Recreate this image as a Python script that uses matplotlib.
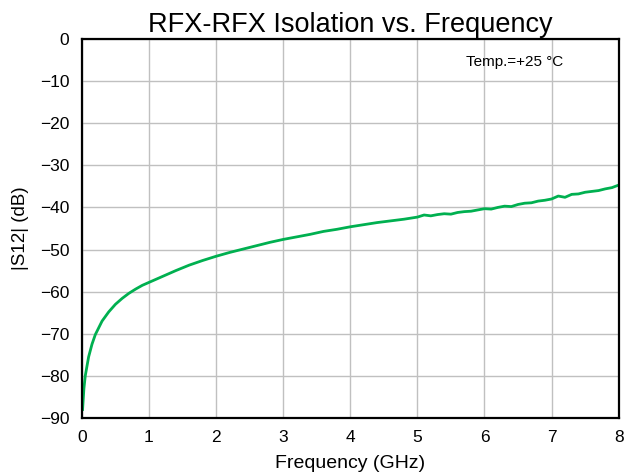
import matplotlib.pyplot as plt

plt.rcParams['font.family'] = ['Liberation Sans', 'DejaVu Sans']

freq_ghz = [0.01, 0.03, 0.05, 0.1, 0.15, 0.2, 0.3, 0.4, 0.5, 0.6, 0.7, 0.8, 0.9,
            1.0, 1.2, 1.4, 1.6, 1.8, 2.0, 2.2, 2.4, 2.6, 2.8, 3.0, 3.2, 3.4,
            3.6, 3.8, 4.0, 4.2, 4.4, 4.6, 4.8, 5.0, 5.1, 5.2, 5.3, 5.4, 5.5,
            5.6, 5.7, 5.8, 5.9, 6.0, 6.1, 6.2, 6.3, 6.4, 6.5, 6.6, 6.7, 6.8,
            6.9, 7.0, 7.1, 7.2, 7.3, 7.4, 7.5, 7.6, 7.7, 7.8, 7.9, 8.0]
s12_db = [-88.0, -83.0, -80.0, -75.5, -72.5, -70.2, -67.0, -64.8, -63.0, -61.6,
          -60.4, -59.4, -58.5, -57.8, -56.4, -55.0, -53.7, -52.6, -51.6, -50.7,
          -49.9, -49.1, -48.3, -47.6, -47.0, -46.4, -45.7, -45.2, -44.6, -44.1,
          -43.6, -43.2, -42.8, -42.3, -41.8, -42.0, -41.7, -41.5, -41.6, -41.2,
          -41.0, -40.9, -40.6, -40.3, -40.4, -40.0, -39.7, -39.8, -39.3, -39.0,
          -38.9, -38.5, -38.3, -38.0, -37.3, -37.6, -36.9, -36.8, -36.4, -36.2,
          -36.0, -35.6, -35.3, -34.7]

fig = plt.figure(figsize=(6.3, 4.75), dpi=100)
ax = fig.add_axes([0.130, 0.12, 0.852, 0.798])

ax.plot(freq_ghz, s12_db, color='#00B050', linewidth=2)

ax.set_xlim(0, 8)
ax.set_ylim(-90, 0)
ax.set_xticks(range(0, 9))
ax.set_yticks(range(-90, 1, 10))
ax.grid(True, color='#c0c0c0', linewidth=1)
ax.set_axisbelow(True)
ax.tick_params(length=0, labelsize=12.5, pad=9)
for sp in ax.spines.values():
    sp.set_linewidth(1.6)
    sp.set_color('black')

ax.set_title("RFX-RFX Isolation vs. Frequency", fontsize=19.5, pad=5)
ax.set_xlabel("Frequency (GHz)", fontsize=14, labelpad=7)
ax.set_ylabel("|S12| (dB)", fontsize=13.5, labelpad=8)
ax.text(0.806, 0.939, "Temp.=+25 °C", transform=ax.transAxes, fontsize=11,
        ha='center', va='center')

fig.savefig("out.png", dpi=100)
